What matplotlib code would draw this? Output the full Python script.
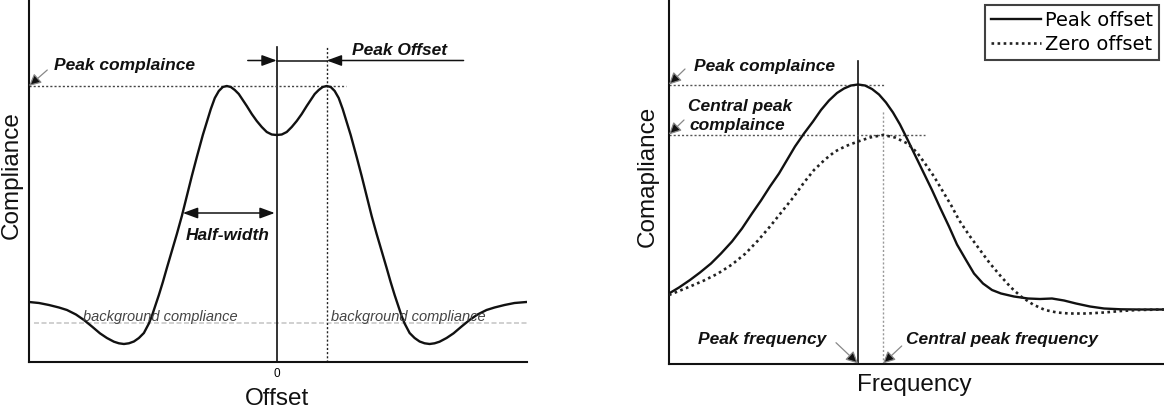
import matplotlib
matplotlib.use("Agg")
import matplotlib.pyplot as plt

# ---------------- data: left panel (offset vs compliance) ----------------
offset_left_half = [-24.8, -23.8, -22.8, -21.8, -21.0, -20.1, -19.3, -18.5, -17.7, -17.0,
                    -16.3, -15.8, -15.3, -14.8, -14.3, -13.8, -13.3, -12.8, -12.5, -12.2,
                    -11.8, -11.4, -11.0, -10.5, -10.0, -9.5, -9.0, -8.5, -8.0, -7.7,
                    -7.4, -7.0, -6.6, -6.2, -5.8, -5.4, -5.0, -4.6, -4.2, -3.8,
                    -3.4, -3.0, -2.5, -2.0, -1.5, -1.0, -0.5, 0.0]
comp_left_half = [6.0, 5.9, 5.7, 5.45, 5.2, 4.75, 4.2, 3.55, 2.87, 2.4,
                  2.03, 1.87, 1.8, 1.87, 2.05, 2.4, 2.9, 3.85, 4.6, 5.5,
                  6.7, 8.0, 9.4, 11.1, 12.8, 14.6, 16.6, 18.6, 20.5, 21.6,
                  22.7, 24.0, 25.3, 26.4, 27.1, 27.5, 27.6, 27.5, 27.2, 26.8,
                  26.2, 25.6, 24.8, 24.1, 23.5, 23.0, 22.75, 22.7]
offset_right_half = [0.5, 1.0, 1.5, 2.0, 2.5, 3.0, 3.4, 3.8, 4.2, 4.6,
                     5.0, 5.4, 5.8, 6.2, 6.6, 7.0, 7.4, 7.7, 8.0, 8.5,
                     9.0, 9.5, 10.0, 10.5, 11.0, 11.4, 11.8, 12.2, 12.5, 12.8,
                     13.3, 13.8, 14.3, 14.8, 15.3, 15.8, 16.3, 17.0, 17.7, 18.5,
                     19.3, 20.1, 21.0, 21.8, 22.8, 23.8, 25.0]
comp_right_half = [22.75, 23.0, 23.5, 24.1, 24.8, 25.6, 26.2, 26.8, 27.2, 27.5,
                   27.6, 27.5, 27.1, 26.4, 25.3, 24.0, 22.7, 21.6, 20.5, 18.6,
                   16.6, 14.6, 12.8, 11.1, 9.4, 8.0, 6.7, 5.5, 4.6, 3.85,
                   2.9, 2.4, 2.05, 1.87, 1.8, 1.87, 2.03, 2.4, 2.87, 3.55,
                   4.2, 4.75, 5.2, 5.45, 5.7, 5.9, 6.0]
offset_vals = offset_left_half + offset_right_half
compliance_vals = comp_left_half + comp_right_half

peak_compliance_left = 27.6
peak_offset = 5.0
background_level = 3.9
half_width = 9.4

# ---------------- data: right panel (frequency vs compliance) ----------------
freq_peak = [0.0, 1.0, 2.1, 3.1, 4.2, 5.2, 6.3, 7.3, 8.3, 9.2, 10.1, 11.0, 11.8, 12.6,
             13.5, 14.4, 15.2, 16.0, 16.8, 17.5, 18.2, 18.9, 19.6, 20.3, 21.0, 21.7,
             22.4, 23.1, 23.8, 24.5, 25.4, 26.3, 27.1, 28.0, 28.8, 29.7, 30.5, 31.4,
             32.3, 33.2, 34.5, 35.9, 37.1, 38.3, 39.5, 40.7, 42.1, 43.5, 45.2, 46.9, 49.5]
comp_peak = [7.0, 7.6, 8.35, 9.1, 10.0, 11.0, 12.2, 13.5, 15.0, 16.3, 17.7, 19.0, 20.35, 21.7,
             23.0, 24.2, 25.35, 26.3, 27.05, 27.5, 27.8, 27.9, 27.8, 27.45, 26.9, 26.1,
             25.1, 23.9, 22.5, 21.05, 19.2, 17.35, 15.6, 13.7, 11.9, 10.35, 9.0, 8.0,
             7.35, 7.0, 6.7, 6.5, 6.45, 6.5, 6.3, 6.0, 5.7, 5.5, 5.42, 5.4, 5.4]
freq_zero = [0.0, 1.0, 2.1, 3.5, 4.9, 6.3, 7.65, 8.9, 10.1, 11.3, 12.5, 13.5, 14.5, 15.6,
             16.6, 17.7, 18.9, 20.1, 21.4, 22.6, 23.85, 24.8, 25.6, 26.5, 27.3, 28.2,
             29.0, 30.0, 31.1, 32.1, 33.2, 34.2, 35.2, 36.4, 37.6, 38.8, 40.0, 41.8,
             43.5, 45.2, 46.9, 49.5]
comp_zero = [6.85, 7.25, 7.7, 8.3, 9.0, 9.9, 11.0, 12.3, 13.7, 15.2, 16.7, 18.1, 19.35, 20.4,
             21.2, 21.75, 22.2, 22.6, 22.85, 22.6, 22.0, 21.1, 20.0, 18.7, 17.35, 15.85,
             14.35, 12.85, 11.35, 10.0, 8.7, 7.6, 6.7, 5.9, 5.35, 5.1, 5.0, 5.0,
             5.1, 5.25, 5.35, 5.4]

peak_freq = 18.9
central_peak_freq = 21.4
peak_comp_right = 27.9
central_peak_comp = 22.9

legend_labels = ["Peak offset", "Zero offset"]

# ---------------- figure ----------------
W, H = 1164, 408
fig = plt.figure(figsize=(W / 100, H / 100), dpi=100)

SANS = ["Liberation Sans", "DejaVu Sans"]
ann_font = dict(family=SANS, fontsize=12.5, fontweight="bold", fontstyle="italic", color="#111111")

ax1 = fig.add_axes([29 / W, (H - 362) / H, (526.5 - 29) / W, 362 / H])
ax2 = fig.add_axes([669 / W, (H - 363.5) / H, (W - 669) / W, 363.5 / H])

for ax in (ax1, ax2):
    for s in ("top", "right"):
        ax.spines[s].set_visible(False)
    for s in ("left", "bottom"):
        ax.spines[s].set_linewidth(1.5)
        ax.spines[s].set_color("#111111")
    ax.set_yticks([])

# ---- left panel ----
ax1.set_xlim(-24.8, 25.0)
ax1.set_ylim(0, 36.2)
ax1.set_xticks([0])
ax1.set_xticklabels(["0"], fontsize=8.5, family=SANS)
ax1.tick_params(axis="x", length=0, pad=4)

ax1.plot([-24.3, 25.0], [background_level, background_level], color="#c8c8c8",
         lw=1.2, ls=(0, (3, 1.5)), zorder=1)
ax1.plot(offset_vals, compliance_vals, color="#111111", lw=1.7, zorder=3,
         solid_joinstyle="round")
ax1.plot([0, 0], [0, 31.55], color="#111111", lw=1.2, zorder=2)
ax1.plot([peak_offset, peak_offset], [0, 31.5], color="#222222", lw=1.0, ls=(0, (1.5, 1.5)), zorder=2)
ax1.plot([-24.8, 6.9], [peak_compliance_left, peak_compliance_left], color="#444444",
         lw=1.0, ls=(0, (1.5, 1.5)), zorder=2)

# peak offset arrows
ahead = dict(arrowstyle="-|>,head_length=0.6,head_width=0.22", color="#111111", lw=1.1,
             mutation_scale=15, shrinkA=0, shrinkB=0)
ax1.annotate("", xy=(0, 30.15), xytext=(-2.9, 30.15), arrowprops=ahead)
ax1.annotate("", xy=(peak_offset, 30.15), xytext=(18.7, 30.15), arrowprops=ahead)
ax1.plot([0, peak_offset], [30.15, 30.15], color="#111111", lw=1.1)

# half-width arrow
ax1.annotate("", xy=(-0.2, 14.9), xytext=(-half_width, 14.9),
             arrowprops=dict(arrowstyle="<|-|>,head_length=0.6,head_width=0.22", color="#111111",
                             lw=1.1, mutation_scale=15, shrinkA=0, shrinkB=0))

grey_arrow = dict(arrowstyle="-|>,head_length=0.6,head_width=0.3", fc="#111111", ec="#888888",
                  lw=0.9, mutation_scale=12, shrinkA=0, shrinkB=0)
ax1.annotate("", xy=(-24.8, peak_compliance_left), xytext=(-22.97, 29.2), arrowprops=grey_arrow,
             annotation_clip=False)

ax1.text(-22.27, 29.2, "Peak complaince", ha="left", va="baseline", **ann_font)
ax1.text(7.53, 30.7, "Peak Offset", ha="left", va="baseline", **ann_font)
ax1.text(-9.07, 12.2, "Half-width", ha="left", va="baseline", **ann_font)
bg_font = dict(family=SANS, fontsize=10.5, fontstyle="italic", color="#444444")
ax1.text(-19.44, 4.13, "background compliance", ha="left", va="baseline", **bg_font)
ax1.text(5.43, 4.13, "background compliance", ha="left", va="baseline", **bg_font)

# ---- right panel ----
ax2.set_xlim(0, 49.5)
ax2.set_ylim(0, 36.35)
ax2.set_xticks([])

l1, = ax2.plot(freq_peak, comp_peak, color="#111111", lw=1.7, zorder=3, solid_joinstyle="round")
l2, = ax2.plot(freq_zero, comp_zero, color="#222222", lw=1.9, ls=(0, (1, 1.3)), zorder=3)
ax2.plot([peak_freq, peak_freq], [0, 30.3], color="#111111", lw=1.2, zorder=2)
ax2.plot([central_peak_freq, central_peak_freq], [0, 25.35], color="#999999", lw=1.0,
         ls=(0, (1.5, 1.5)), zorder=2)
ax2.plot([0, 21.6], [peak_comp_right, peak_comp_right], color="#555555", lw=1.0,
         ls=(0, (1.5, 1.5)), zorder=2)
ax2.plot([0, 25.6], [central_peak_comp, central_peak_comp], color="#555555", lw=1.0,
         ls=(0, (1.5, 1.5)), zorder=2)

ax2.annotate("", xy=(0, peak_comp_right), xytext=(1.6, 29.45), arrowprops=grey_arrow,
             annotation_clip=False)
ax2.annotate("", xy=(0, central_peak_comp), xytext=(1.5, 24.35), arrowprops=grey_arrow,
             annotation_clip=False)
ax2.annotate("", xy=(peak_freq, 0), xytext=(16.7, 2.08), arrowprops=grey_arrow,
             annotation_clip=False)
ax2.annotate("", xy=(central_peak_freq, 0), xytext=(23.27, 1.75), arrowprops=grey_arrow,
             annotation_clip=False)

ax2.text(2.5, 29.28, "Peak complaince", ha="left", va="baseline", **ann_font)
ax2.text(1.93, 25.25, "Central peak", ha="left", va="baseline", **ann_font)
ax2.text(2.0, 23.35, "complaince", ha="left", va="baseline", **ann_font)
ax2.text(2.87, 1.92, "Peak frequency", ha="left", va="baseline", **ann_font)
ax2.text(23.67, 1.92, "Central peak frequency", ha="left", va="baseline", **ann_font)

leg = fig.legend([l1, l2], legend_labels, loc="upper right",
                 bbox_to_anchor=(1159 / W, 1 - 5 / H), bbox_transform=fig.transFigure,
                 borderaxespad=0.0,
                 frameon=True, fancybox=False, shadow=False, borderpad=0.3,
                 handlelength=2.6, handletextpad=0.2, labelspacing=0.25,
                 prop=dict(family=["DejaVu Sans"], size=14))
leg.get_frame().set_edgecolor("#111111")
leg.get_frame().set_linewidth(1.5)

# ---- axis labels ----
lab_font = dict(family=SANS, fontsize=17.5, color="#111111")
fig.text(12 / W, 1 - 175 / H, "Compliance", rotation=90, ha="center", va="center", **lab_font)
fig.text(647.5 / W, 1 - 176.5 / H, "Comapliance", rotation=90, ha="center", va="center", **lab_font)
fig.text(277 / W, 1 - 405 / H, "Offset", ha="center", va="baseline", **lab_font)
fig.text(914 / W, 1 - 390.5 / H, "Frequency", ha="center", va="baseline", **lab_font)

fig.savefig("out.png", dpi=100)
